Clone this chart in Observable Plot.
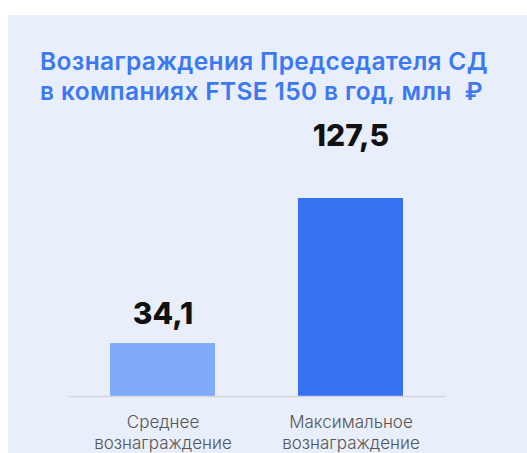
<!DOCTYPE html>
<html>
<head>
<meta charset="utf-8">
<script src="https://cdn.jsdelivr.net/npm/d3@7"></script>
<script src="https://cdn.jsdelivr.net/npm/@observablehq/plot@0.6"></script>
<style>
  html, body { margin: 0; padding: 0; background: #ffffff; }
  body { width: 527px; height: 453px; overflow: hidden; position: relative; }
  #panel { position: absolute; left: 8px; top: 15px; width: 519px; height: 438px; background: #e8eefa; }
  #title { position: absolute; left: 32px; top: 31px; font-family: Inter, sans-serif; font-weight: 600;
           font-size: 24.5px; line-height: 30px; color: #3b78f2; letter-spacing: 0.35px; white-space: nowrap; }
  #chart { position: absolute; left: 0; top: 95px; }
</style>
</head>
<body>
<div id="panel">
  <div id="title">Вознаграждения Председателя СД<br>в компаниях FTSE 150 в год, млн&nbsp; ₽</div>
  <div id="chart"></div>
</div>
<script>
const categories = ["Среднее\nвознаграждение", "Максимальное\nвознаграждение"];
const values = [34.1, 127.5];
const colors = ["#80aafc", "#3571f1"];

const data = categories.map((c, i) => ({category: c, value: values[i], color: colors[i]}));
const fmt = v => v.toFixed(1).replace(".", ",");

const chart = Plot.plot({
  width: 519,
  height: 343,
  marginLeft: 60,
  marginRight: 82,
  marginTop: 88,
  marginBottom: 57,
  style: {background: "transparent", fontFamily: "Inter, sans-serif", overflow: "visible"},
  x: {domain: categories, paddingInner: 0.444, paddingOuter: 0.22},
  y: {domain: [0, 127.5], nice: false, axis: null},
  marks: [
    Plot.barY(data, {x: "category", y: "value", fill: "color"}),
    Plot.ruleY([0], {stroke: "#d3d5da", strokeWidth: 1.5}),
    Plot.text(data.filter(d => d.value < 100), {x: "category", y: "value", text: d => fmt(d.value),
      fontSize: 30, fontWeight: 800, fill: "#111", lineAnchor: "bottom", dy: -20}),
    Plot.text(data.filter(d => d.value >= 100), {x: "category", y: "value", text: d => fmt(d.value),
      fontSize: 30, fontWeight: 800, fill: "#111", lineAnchor: "bottom", dy: -53}),
    Plot.axisX({tickSize: 0, tickPadding: 17, fontSize: 17, fontWeight: 300, fill: "#555555",
      lineHeight: 1.22, label: null})
  ]
});
document.getElementById("chart").appendChild(chart);
</script>
</body>
</html>
